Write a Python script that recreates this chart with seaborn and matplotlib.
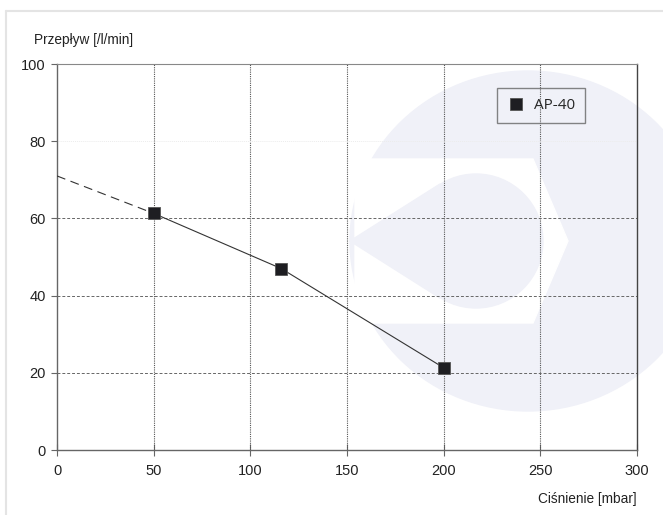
import numpy as np
import pandas as pd
import matplotlib
matplotlib.use("Agg")
import matplotlib.pyplot as plt
import seaborn as sns
from matplotlib import font_manager
from matplotlib.lines import Line2D
from matplotlib.patches import Ellipse, Polygon

# measured points of the AP-40 curve
pressure = [50, 116, 200]
flow = [61.3, 47.0, 21.3]
# dashed extrapolation towards zero pressure
extrap_pressure = [0, 50]
extrap_flow = [71.0, 61.3]

series_name = "AP-40"
x_ticks = [0, 50, 100, 150, 200, 250, 300]
y_ticks = [0, 20, 40, 60, 80, 100]

W, H = 663, 515

names = {f.name for f in font_manager.fontManager.ttflist}
narrow = "Liberation Sans Narrow" if "Liberation Sans Narrow" in names else "Liberation Sans"
label_size = 11.5 if narrow == "Liberation Sans Narrow" else 9.8

sns.set_theme(style="white")
plt.rcParams["font.family"] = [narrow, "DejaVu Sans"]

fig = plt.figure(figsize=(W / 100, H / 100), dpi=100)
fig.patch.set_facecolor("white")


def px(x, y):
    return (x / W, 1 - y / H)


# faint logo watermark behind the chart
lav = "#f0f1f8"
disc = Ellipse(px(528, 241), 356 / W, 340 / H, color=lav)
band = Polygon([px(355, 159), px(533, 159), px(568, 241), px(533, 323), px(355, 323)], color="white")
tear = Ellipse(px(476, 241), 134 / W, 134 / H, color=lav)
tip = Polygon([px(350, 241), px(440, 184), px(440, 298)], color=lav)
for z, p in zip([-3, -2, -1, -1], [disc, band, tear, tip]):
    p.set_transform(fig.transFigure)
    p.set_zorder(z)
    fig.patches.append(p)

# thin page frame
fig.add_artist(Line2D([6 / W, 1], [1 - 11 / H] * 2, color="#e4e4e4", lw=1.5, transform=fig.transFigure))
fig.add_artist(Line2D([6 / W] * 2, [0, 1 - 11 / H], color="#e4e4e4", lw=1.5, transform=fig.transFigure))

ax = fig.add_axes([57 / W, 1 - 450 / H, (637 - 57) / W, (450 - 64) / H])
ax.set_facecolor("none")

df = pd.DataFrame({"p": pressure, "q": flow})
ext = pd.DataFrame({"p": extrap_pressure, "q": extrap_flow})

sns.lineplot(data=ext, x="p", y="q", ax=ax, color="#333333", lw=0.8,
             linestyle=(0, (8, 5)), zorder=3)
sns.lineplot(data=df, x="p", y="q", ax=ax, color="#333333", lw=0.8, zorder=3)
ax.plot(pressure, flow, ls="none", marker="s", ms=9, mfc="#1e1e22",
        mec="#555555", mew=0.6, zorder=4)

ax.set_xlim(0, 300)
ax.set_ylim(0, 100)
ax.set_xticks(x_ticks)
ax.set_yticks(y_ticks)
ax.set_xlabel("")
ax.set_ylabel("")

# grid: dotted verticals, dashed horizontals, faint line at 80
for xv in x_ticks[1:-1]:
    ax.axvline(xv, color="#555555", lw=0.8, ls=(0, (1, 1)), zorder=1)
for yv in [20, 40, 60]:
    ax.axhline(yv, color="#666666", lw=0.7, ls=(0, (3, 2)), zorder=1)
ax.axhline(80, color="#ececec", lw=0.7, ls=(0, (1, 1)), zorder=1)

for s in ["left", "bottom"]:
    ax.spines[s].set_color("#666666")
    ax.spines[s].set_linewidth(1.0)
ax.spines["right"].set_color("#444444")
ax.spines["right"].set_linewidth(1.0)
ax.spines["top"].set_color("#888888")
ax.spines["top"].set_linewidth(0.8)

ax.tick_params(axis="x", direction="inout", length=8, width=0.8, color="#666666",
               labelsize=10.5, labelcolor="#222222", pad=6, bottom=True)
ax.tick_params(axis="y", direction="out", length=4, width=0.8, color="#666666",
               labelsize=10.5, labelcolor="#222222", pad=4, left=True)

fig.text(34 / W, 1 - 40 / H, "Przepływ [/l/min]", fontsize=label_size, color="#222222",
         ha="left", va="center")
fig.text(637 / W, 1 - 499 / H, "Ciśnienie [mbar]", fontsize=label_size, color="#222222",
         ha="right", va="center")

handle = Line2D([], [], ls="none", marker="s", ms=9, mfc="#1e1e22", mec="#555555", mew=0.6)
leg = ax.legend([handle], [series_name], loc="upper left",
                bbox_to_anchor=(497 / W, 1 - 88 / H), bbox_transform=fig.transFigure,
                frameon=True, fancybox=False, borderpad=0.65, handletextpad=0.55,
                handlelength=1.2, borderaxespad=0,
                prop={"family": ["Open Sans", "DejaVu Sans"], "size": 11})
leg.get_frame().set_edgecolor("#666666")
leg.get_frame().set_linewidth(1.0)
leg.get_frame().set_facecolor("none")

fig.savefig("out.png", dpi=100)
